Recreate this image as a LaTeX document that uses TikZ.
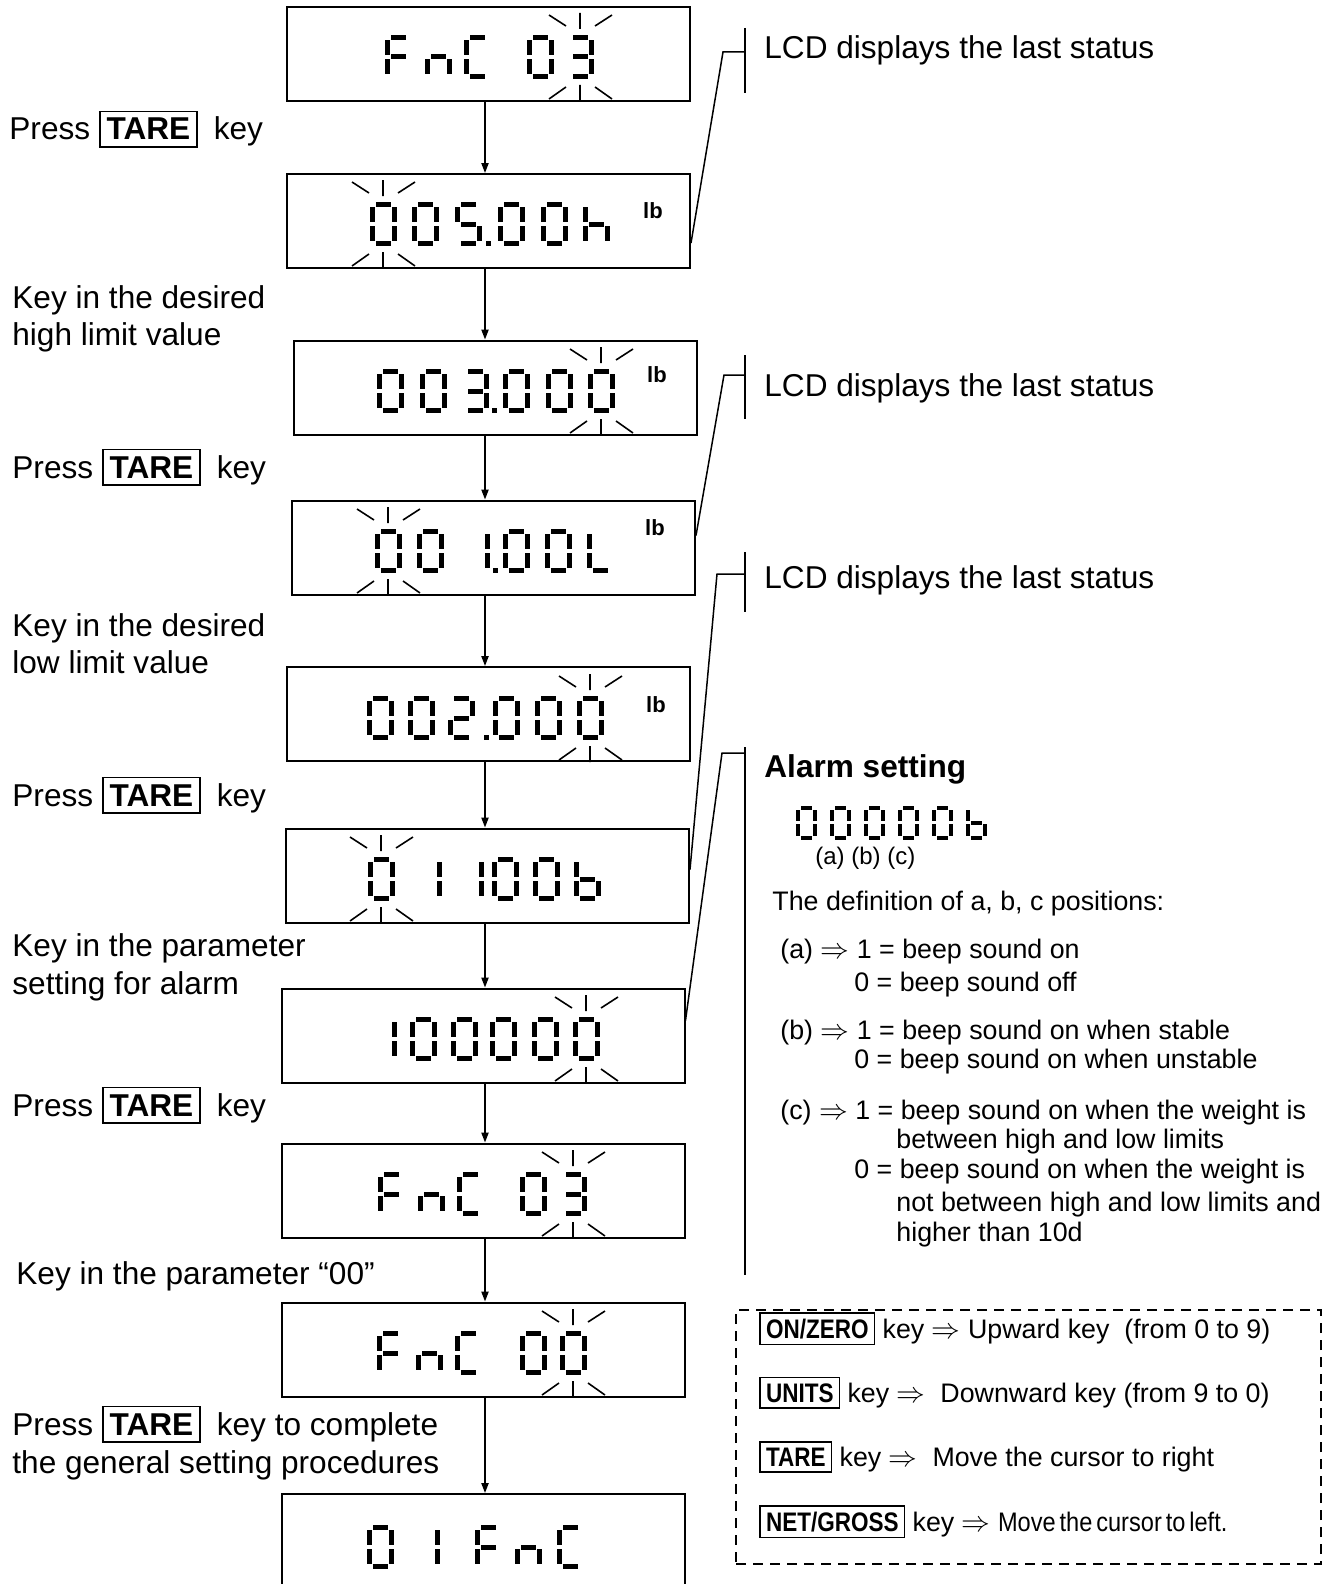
\documentclass[tikz,border=0pt]{standalone}
\usepackage{fontspec}
\setmainfont{Liberation Sans}
\newfontfamily\condfont[FakeStretch=0.84]{Liberation Sans}
\newfontfamily\tightfont[FakeStretch=0.88,WordSpace=0.6]{Liberation Sans}
\usetikzlibrary{arrows.meta,positioning,calc}
\newcommand{\mainsize}{\fontsize{15.8}{18}\selectfont}
\newcommand{\defsize}{\fontsize{13.4}{16}\selectfont}
\newcommand{\segA}{\fill (6,0) rectangle (21,5);}
\newcommand{\segB}{\fill (22,5) rectangle (27,20);}
\newcommand{\segC}{\fill (22,24) rectangle (27,39);}
\newcommand{\segD}{\fill (6,39) rectangle (21,44);}
\newcommand{\segE}{\fill (0,24) rectangle (5,39);}
\newcommand{\segF}{\fill (0,5) rectangle (5,20);}
\newcommand{\segG}{\fill (6,19.5) rectangle (21,24.5);}
\newcommand{\defglyph}[2]{\expandafter\def\csname glyph#1\endcsname{#2}}
\defglyph{0}{\segA\segB\segC\segD\segE\segF}
\defglyph{1}{\segB\segC}
\defglyph{2}{\segA\segB\segG\segE\segD}
\defglyph{3}{\segA\segB\segG\segC\segD}
\defglyph{5}{\segA\segF\segG\segC\segD}
\defglyph{F}{\segA\segF\segE\segG}
\defglyph{n}{\segE\segG\segC}
\defglyph{C}{\segA\segF\segE\segD}
\defglyph{h}{\segF\segE\segG\segC}
\defglyph{L}{\segF\segE\segD}
\defglyph{b}{\segF\segE\segG\segC\segD}
\defglyph{dot}{\fill (0,39) rectangle (5,44);}
\newcommand{\keybox}[1]{{\setlength{\fboxsep}{3pt}\setlength{\fboxrule}{0.8pt}\fbox{\bfseries #1}}}
\newcommand{\keysm}[1]{{\setlength{\fboxsep}{2.5pt}\setlength{\fboxrule}{0.8pt}\fbox{\condfont\bfseries #1}}}
\tikzset{
  pics/lcd/.style={code={\csname glyph#1\endcsname}},
  pics/blink/.style={code={
    \draw[line width=0.8pt] (13,-22) -- (13,-6) (-18,-20) -- (-1,-9) (28,-9) -- (45,-20)
      (13,50) -- (13,66) (-18,64) -- (-1,52) (28,52) -- (45,64);}},
}
\begin{document}
\begin{tikzpicture}[x=0.5pt,y=-0.5pt,font=\mainsize,
  lcdbox/.style={draw,line width=1pt,minimum width=201.5pt,minimum height=47pt,inner sep=0pt},
  flow/.style={line width=0.8pt,-{Triangle[length=5pt,width=3.6pt]}},
  lead/.style={line width=0.75pt},
  txt/.style={anchor=base west,inner sep=0pt},
  def/.style={txt,font=\defsize},
  unit/.style={inner sep=0pt,font=\fontsize{11}{13}\selectfont\bfseries},
  legendbox/.style={draw,line width=1pt,dash pattern=on 5pt off 3.5pt,
                    minimum width=292.5pt,minimum height=127pt}]
  \useasboundingbox (0,0) rectangle (1333,1584);
  \clip (0,0) rectangle (1333,1584);

  \node[lcdbox] (d1) at (488.5,54) {};
  \node[lcdbox] (d2) at (488.5,221) {};
  \node[lcdbox] (d3) at (495,387.5) {};
  \node[lcdbox] (d4) at (493.5,547.5) {};
  \node[lcdbox] (d5) at (488,714) {};
  \node[lcdbox] (d6) at (487.5,875.5) {};
  \node[lcdbox] (d7) at (483,1035.5) {};
  \node[lcdbox] (d8) at (483,1190.5) {};
  \node[lcdbox] (d9) at (483,1349.5) {};
  \node[lcdbox] (d10) at (483,1541) {};

  \foreach \ch/\px in {F/385,n/425,C/464,0/527,3/567} \pic at (\px,35) {lcd=\ch};
  \pic at (567,35) {blink};
  \foreach \ch/\px in {0/370,0/412,5/455,dot/486,0/498,0/541,h/583} \pic at (\px,202) {lcd=\ch};
  \pic at (370,202) {blink};
  \foreach \ch/\px in {0/377,0/420,3/462,dot/492,0/503,0/546,0/588} \pic at (\px,369) {lcd=\ch};
  \pic at (588,369) {blink};
  \foreach \ch/\px in {0/375,0/417,1/463,dot/493,0/503,0/545,L/587} \pic at (\px,529) {lcd=\ch};
  \pic at (375,529) {blink};
  \foreach \ch/\px in {0/367,0/408,2/448,dot/484,0/493,0/535,0/577} \pic at (\px,696) {lcd=\ch};
  \pic at (577,696) {blink};
  \foreach \ch/\px in {0/368,1/415,1/457,0/492,0/533,b/574} \pic at (\px,857) {lcd=\ch};
  \pic at (368,857) {blink};
  \foreach \ch/\px in {1/370,0/410,0/451,0/490,0/532,0/573} \pic at (\px,1017) {lcd=\ch};
  \pic at (573,1017) {blink};
  \foreach \ch/\px in {F/378,n/418,C/457,0/520,3/560} \pic at (\px,1172) {lcd=\ch};
  \pic at (560,1172) {blink};
  \foreach \ch/\px in {F/377,n/416,C/455,0/520,0/560} \pic at (\px,1331) {lcd=\ch};
  \pic at (560,1331) {blink};
  \foreach \ch/\px in {0/367,1/413,F/475,n/515,C/557} \pic at (\px,1525) {lcd=\ch};

  \node[unit] (u2) at (653,211) {lb};
  \node[unit] (u3) at (657,375) {lb};
  \node[unit] (u4) at (655,528) {lb};
  \node[unit] (u5) at (656,705) {lb};

  \coordinate (col) at (485,0);
  \foreach \a/\b in {d1/d2,d2/d3,d3/d4,d4/d5,d5/d6,d6/d7,d7/d8,d8/d9,d9/d10}
    \draw[flow] (\a.south -| col) -- (\b.north -| col);

  \node[txt] (p1) at (9,140) {Press \keybox{TARE}\hspace{8pt}key};
  \node[txt] (k1) at (12,308) {Key in the desired};
  \node[txt] (k1b) at (12,345) {high limit value};
  \node[txt] (p2) at (12,478) {Press \keybox{TARE}\hspace{8pt}key};
  \node[txt] (k2) at (12,636) {Key in the desired};
  \node[txt] (k2b) at (12,673) {low limit value};
  \node[txt] (p3) at (12,806) {Press \keybox{TARE}\hspace{8pt}key};
  \node[txt] (k3) at (12,956) {Key in the parameter};
  \node[txt] (k3b) at (12,994) {setting for alarm};
  \node[txt] (p4) at (12,1116) {Press \keybox{TARE}\hspace{8pt}key};
  \node[txt] (k4) at (16,1284) {Key in the parameter “00”};
  \node[txt] (p5) at (12,1435) {Press \keybox{TARE}\hspace{8pt}key to complete};
  \node[txt] (p5b) at (12,1473) {the general setting procedures};

  \node[txt] (s1) at (764,59) {LCD displays the last status};
  \node[txt] (s2) at (764,396) {LCD displays the last status};
  \node[txt] (s3) at (764,588) {LCD displays the last status};
  \coordinate (b1t) at (745,28);   \coordinate (b1b) at (745,93);   \coordinate (b1k) at (723,52);
  \coordinate (b2t) at (745,355);  \coordinate (b2b) at (745,419);  \coordinate (b2k) at (724,375);
  \coordinate (b3t) at (745,552);  \coordinate (b3b) at (745,612);  \coordinate (b3k) at (717,574);
  \coordinate (b4t) at (745,747);  \coordinate (b4b) at (745,1275); \coordinate (b4k) at (722,753);
  \draw[lead] (b1t) -- (b1b) (b2t) -- (b2b) (b3t) -- (b3b) (b4t) -- (b4b);
  \draw[lead] ([yshift=-11pt]d2.east) -- (b1k) -- (b1k -| b1t);
  \draw[lead] ([yshift=6pt]d4.east) -- (b2k) -- (b2k -| b2t);
  \draw[lead] ([yshift=3pt]d6.east) -- (b3k) -- (b3k -| b3t);
  \draw[lead] ([yshift=7.5pt]d7.east) -- (b4k) -- (b4k -| b4t);

  \node[txt,font=\mainsize\bfseries] (al) at (764,777) {Alarm setting};
  \foreach \ch/\px in {0/796,0/830,0/864,0/898,0/932,b/966} \pic[scale=0.77] at (\px,806) {lcd=\ch};
  \node[txt,font=\fontsize{12}{14}\selectfont] (abc) at (815,864) {(a) (b) (c)};
  \node[def] (dh) at (772,910) {The definition of a, b, c positions:};
  \node[def] (da1) at (780,958) {(a) $\Rightarrow$ 1 = beep sound on};
  \node[def] (da0) at (854,991) {0 = beep sound off};
  \node[def] (db1) at (780,1039) {(b) $\Rightarrow$ 1 = beep sound on when stable};
  \node[def] (db0) at (854,1068) {0 = beep sound on when unstable};
  \node[def] (dc1) at (780,1119) {(c) $\Rightarrow$ 1 = beep sound on when the weight is};
  \node[def] (dc1b) at (896,1148) {between high and low limits};
  \node[def] (dc0) at (854,1178) {0 = beep sound on when the weight is};
  \node[def] (dc0b) at (896,1211) {not between high and low limits and};
  \node[def] (dc0c) at (896,1241) {higher than 10d};

  \node[legendbox] (lg) at (1028.5,1437) {};
  \node[def] (r1) at (759,1338) {\keysm{ON/ZERO} key $\Rightarrow$ Upward key~~(from 0 to 9)};
  \node[def] (r2) at (759,1402) {\keysm{UNITS} key $\Rightarrow$~~Downward key (from 9 to 0)};
  \node[def] (r3) at (759,1466) {\keysm{TARE} key $\Rightarrow$~~Move the cursor to right};
  \node[def] (r4) at (759,1531) {\keysm{NET/GROSS} key $\Rightarrow$ {\tightfont Move the cursor to left.}};
\end{tikzpicture}
\end{document}
